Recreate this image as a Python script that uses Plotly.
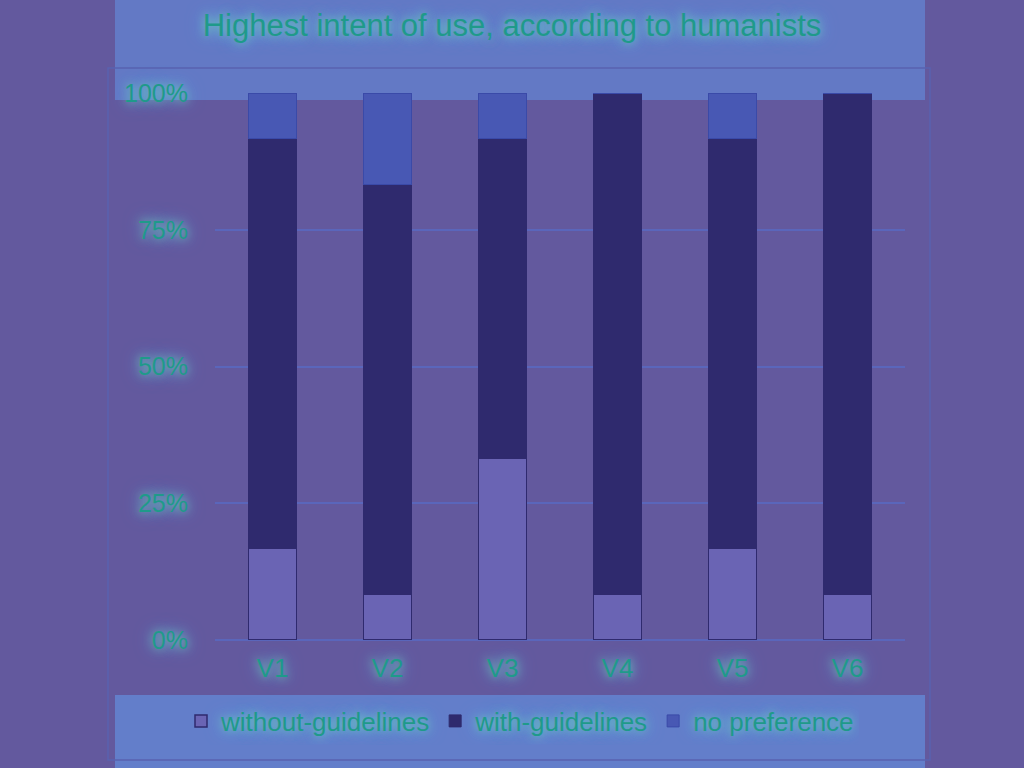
import plotly.graph_objects as go

categories = ["V1", "V2", "V3", "V4", "V5", "V6"]
without_guidelines = [16.7, 8.3, 33.3, 8.3, 16.7, 8.3]
with_guidelines = [75.0, 75.0, 58.3, 91.7, 75.0, 91.7]
no_preference = [8.3, 16.7, 8.4, 0.0, 8.3, 0.0]
tick_vals = [0, 25, 50, 75, 100]
tick_text = ["0%", "25%", "50%", "75%", "100%"]

bg = "#63599e"
navy = "#2f2a6e"
text_col = "#1f9a8a"
glow = "0px 0px 10px #6fd8b0, 0px 0px 18px #5fa8ff"

fig = go.Figure()
fig.add_trace(go.Bar(x=categories, y=without_guidelines, name="without-guidelines",
                     marker=dict(color="#6a64b4", line=dict(color=navy, width=1.5))))
fig.add_trace(go.Bar(x=categories, y=with_guidelines, name="with-guidelines",
                     marker=dict(color=navy, line=dict(color=navy, width=1))))
fig.add_trace(go.Bar(x=categories, y=no_preference, name="no preference",
                     marker=dict(color="#4858b4", line=dict(color="#3a4aa8", width=1))))

def px_x(px):
    return (px - 215) / 690.0

def px_y(py):
    return (640 - py) / 547.0

shapes = [
    dict(type="rect", xref="paper", yref="paper", x0=px_x(115), x1=px_x(925), y0=px_y(100), y1=px_y(0),
         fillcolor="rgba(100,170,255,0.40)", line=dict(width=0), layer="below"),
    dict(type="rect", xref="paper", yref="paper", x0=px_x(115), x1=px_x(925), y0=px_y(768), y1=px_y(695),
         fillcolor="rgba(100,170,255,0.45)", line=dict(width=0), layer="below"),
    dict(type="rect", xref="paper", yref="paper", x0=px_x(108), x1=px_x(930), y0=px_y(760), y1=px_y(68),
         fillcolor="rgba(0,0,0,0)", line=dict(color="#5a62b0", width=1.5), layer="below"),
]

fig.update_layout(
    barmode="stack",
    bargap=0.58,
    width=1024, height=768,
    margin=dict(l=215, r=119, t=93, b=128),
    paper_bgcolor=bg, plot_bgcolor="rgba(0,0,0,0)",
    font=dict(family="Liberation Sans, Arial, sans-serif", color=text_col),
    title=dict(text="Highest intent of use, according to humanists", x=0.5, xanchor="center",
               y=1 - 25 / 768, yanchor="middle",
               font=dict(size=31, color=text_col, shadow=glow)),
    xaxis=dict(showgrid=False, showline=False, ticks="",
               tickfont=dict(size=26, color=text_col, shadow=glow), ticklabelstandoff=10),
    yaxis=dict(range=[0, 100], tickvals=tick_vals, ticktext=tick_text, showgrid=True,
               gridcolor="#5a66bb", gridwidth=1.5, zeroline=True, zerolinecolor="#5a66bb",
               tickfont=dict(size=25, color=text_col, shadow=glow), ticklabelstandoff=26),
    legend=dict(orientation="h", x=px_x(520), xanchor="center", y=px_y(721), yanchor="middle",
                font=dict(size=26, color=text_col, shadow=glow), bgcolor="rgba(0,0,0,0)",
                traceorder="normal", itemwidth=30),
    shapes=shapes,
)

fig.write_html("out.html", config={"displayModeBar": False},
               post_script="document.body.style.margin='0';document.body.style.overflow='hidden';")
